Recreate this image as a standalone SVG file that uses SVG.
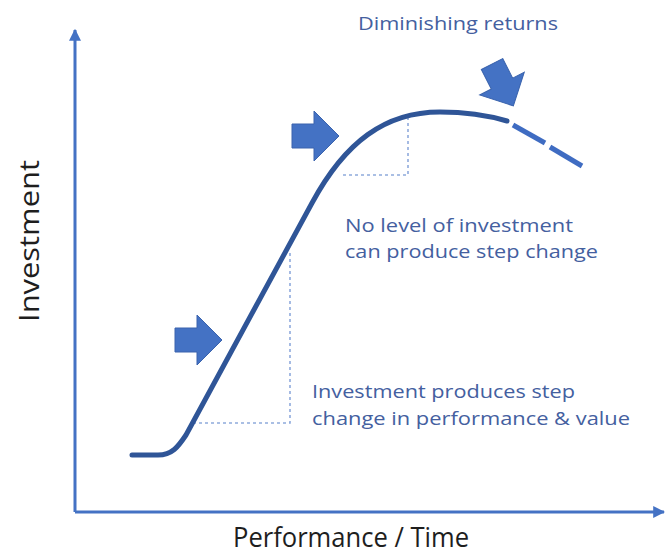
<svg xmlns="http://www.w3.org/2000/svg" width="667" height="557" viewBox="0 0 667 557">
  <style>
    .axis { stroke: #4472c4; stroke-width: 3; fill: none; }
    .curve { stroke: #2f5597; stroke-width: 5; fill: none; stroke-linecap: round; stroke-linejoin: round; }
    .tail { stroke: #3f6cc2; stroke-width: 5; fill: none; stroke-linecap: butt; }
    .guide { stroke: #8faadc; stroke-width: 1.6; fill: none; stroke-dasharray: 3 3; }
    .push { fill: #4472c4; stroke: #3a63ad; stroke-width: 1; }
    .axis-label { font-family: "Open Sans", "Lato", sans-serif; fill: #1e1e1e; font-size: 28px; }
    .note { font-family: "Open Sans", "Lato", sans-serif; fill: #44609f; font-size: 18px; }
  </style>
  <defs>
    <marker id="axis-head" viewBox="0 0 10 10" refX="9" refY="5" markerWidth="4" markerHeight="4" orient="auto" markerUnits="strokeWidth">
      <path d="M0,0 L10,5 L0,10 Z" fill="#4472c4"/>
    </marker>
    <!-- block arrow pointing right, tip at (47,0) -->
    <polygon id="block-arrow" points="0,-12 22,-12 22,-25 47,0 22,25 22,12 0,12"/>
  </defs>

  <rect width="667" height="557" fill="#ffffff"/>

  <g id="axes">
    <path class="axis" d="M75,512 L75,30" marker-end="url(#axis-head)"/>
    <path class="axis" d="M75,512 L664,512" marker-end="url(#axis-head)"/>
    <text class="axis-label" x="351" y="547" text-anchor="middle" textLength="236" lengthAdjust="spacingAndGlyphs">Performance / Time</text>
    <text class="axis-label" transform="translate(39,241) rotate(-90)" text-anchor="middle" textLength="162" lengthAdjust="spacingAndGlyphs">Investment</text>
  </g>

  <g id="connectors">
    <!-- step-change guides -->
    <path class="guide" d="M193,423 L290,423 L290,253"/>
    <path class="guide" d="M343,175 L408,175 L408,118"/>
    <!-- S-curve -->
    <path class="curve" d="M132,455 L158,455 C172,455 178,447 186,435 L312,203 C345,142 385,112 440,112 C470,112 490,116 507,121"/>
    <!-- declining tail -->
    <path class="tail" d="M513,125 L545,143"/>
    <path class="tail" d="M550,147 L582,166"/>
  </g>

  <g id="push-lower">
    <use href="#block-arrow" class="push" transform="translate(175,340)"/>
  </g>
  <g id="push-upper">
    <use href="#block-arrow" class="push" transform="translate(292,136)"/>
  </g>
  <g id="push-diminishing">
    <use href="#block-arrow" class="push" transform="translate(492,64) rotate(63)"/>
  </g>

  <g id="label-diminishing">
    <text class="note" x="358" y="30" textLength="200" lengthAdjust="spacingAndGlyphs">Diminishing returns</text>
  </g>
  <g id="label-no-step">
    <text class="note" x="345" y="232" textLength="228" lengthAdjust="spacingAndGlyphs">No level of investment</text>
    <text class="note" x="345" y="258" textLength="253" lengthAdjust="spacingAndGlyphs">can produce step change</text>
  </g>
  <g id="label-step">
    <text class="note" x="312" y="398" textLength="263" lengthAdjust="spacingAndGlyphs">Investment produces step</text>
    <text class="note" x="312" y="425" textLength="318" lengthAdjust="spacingAndGlyphs">change in performance &amp; value</text>
  </g>
</svg>
